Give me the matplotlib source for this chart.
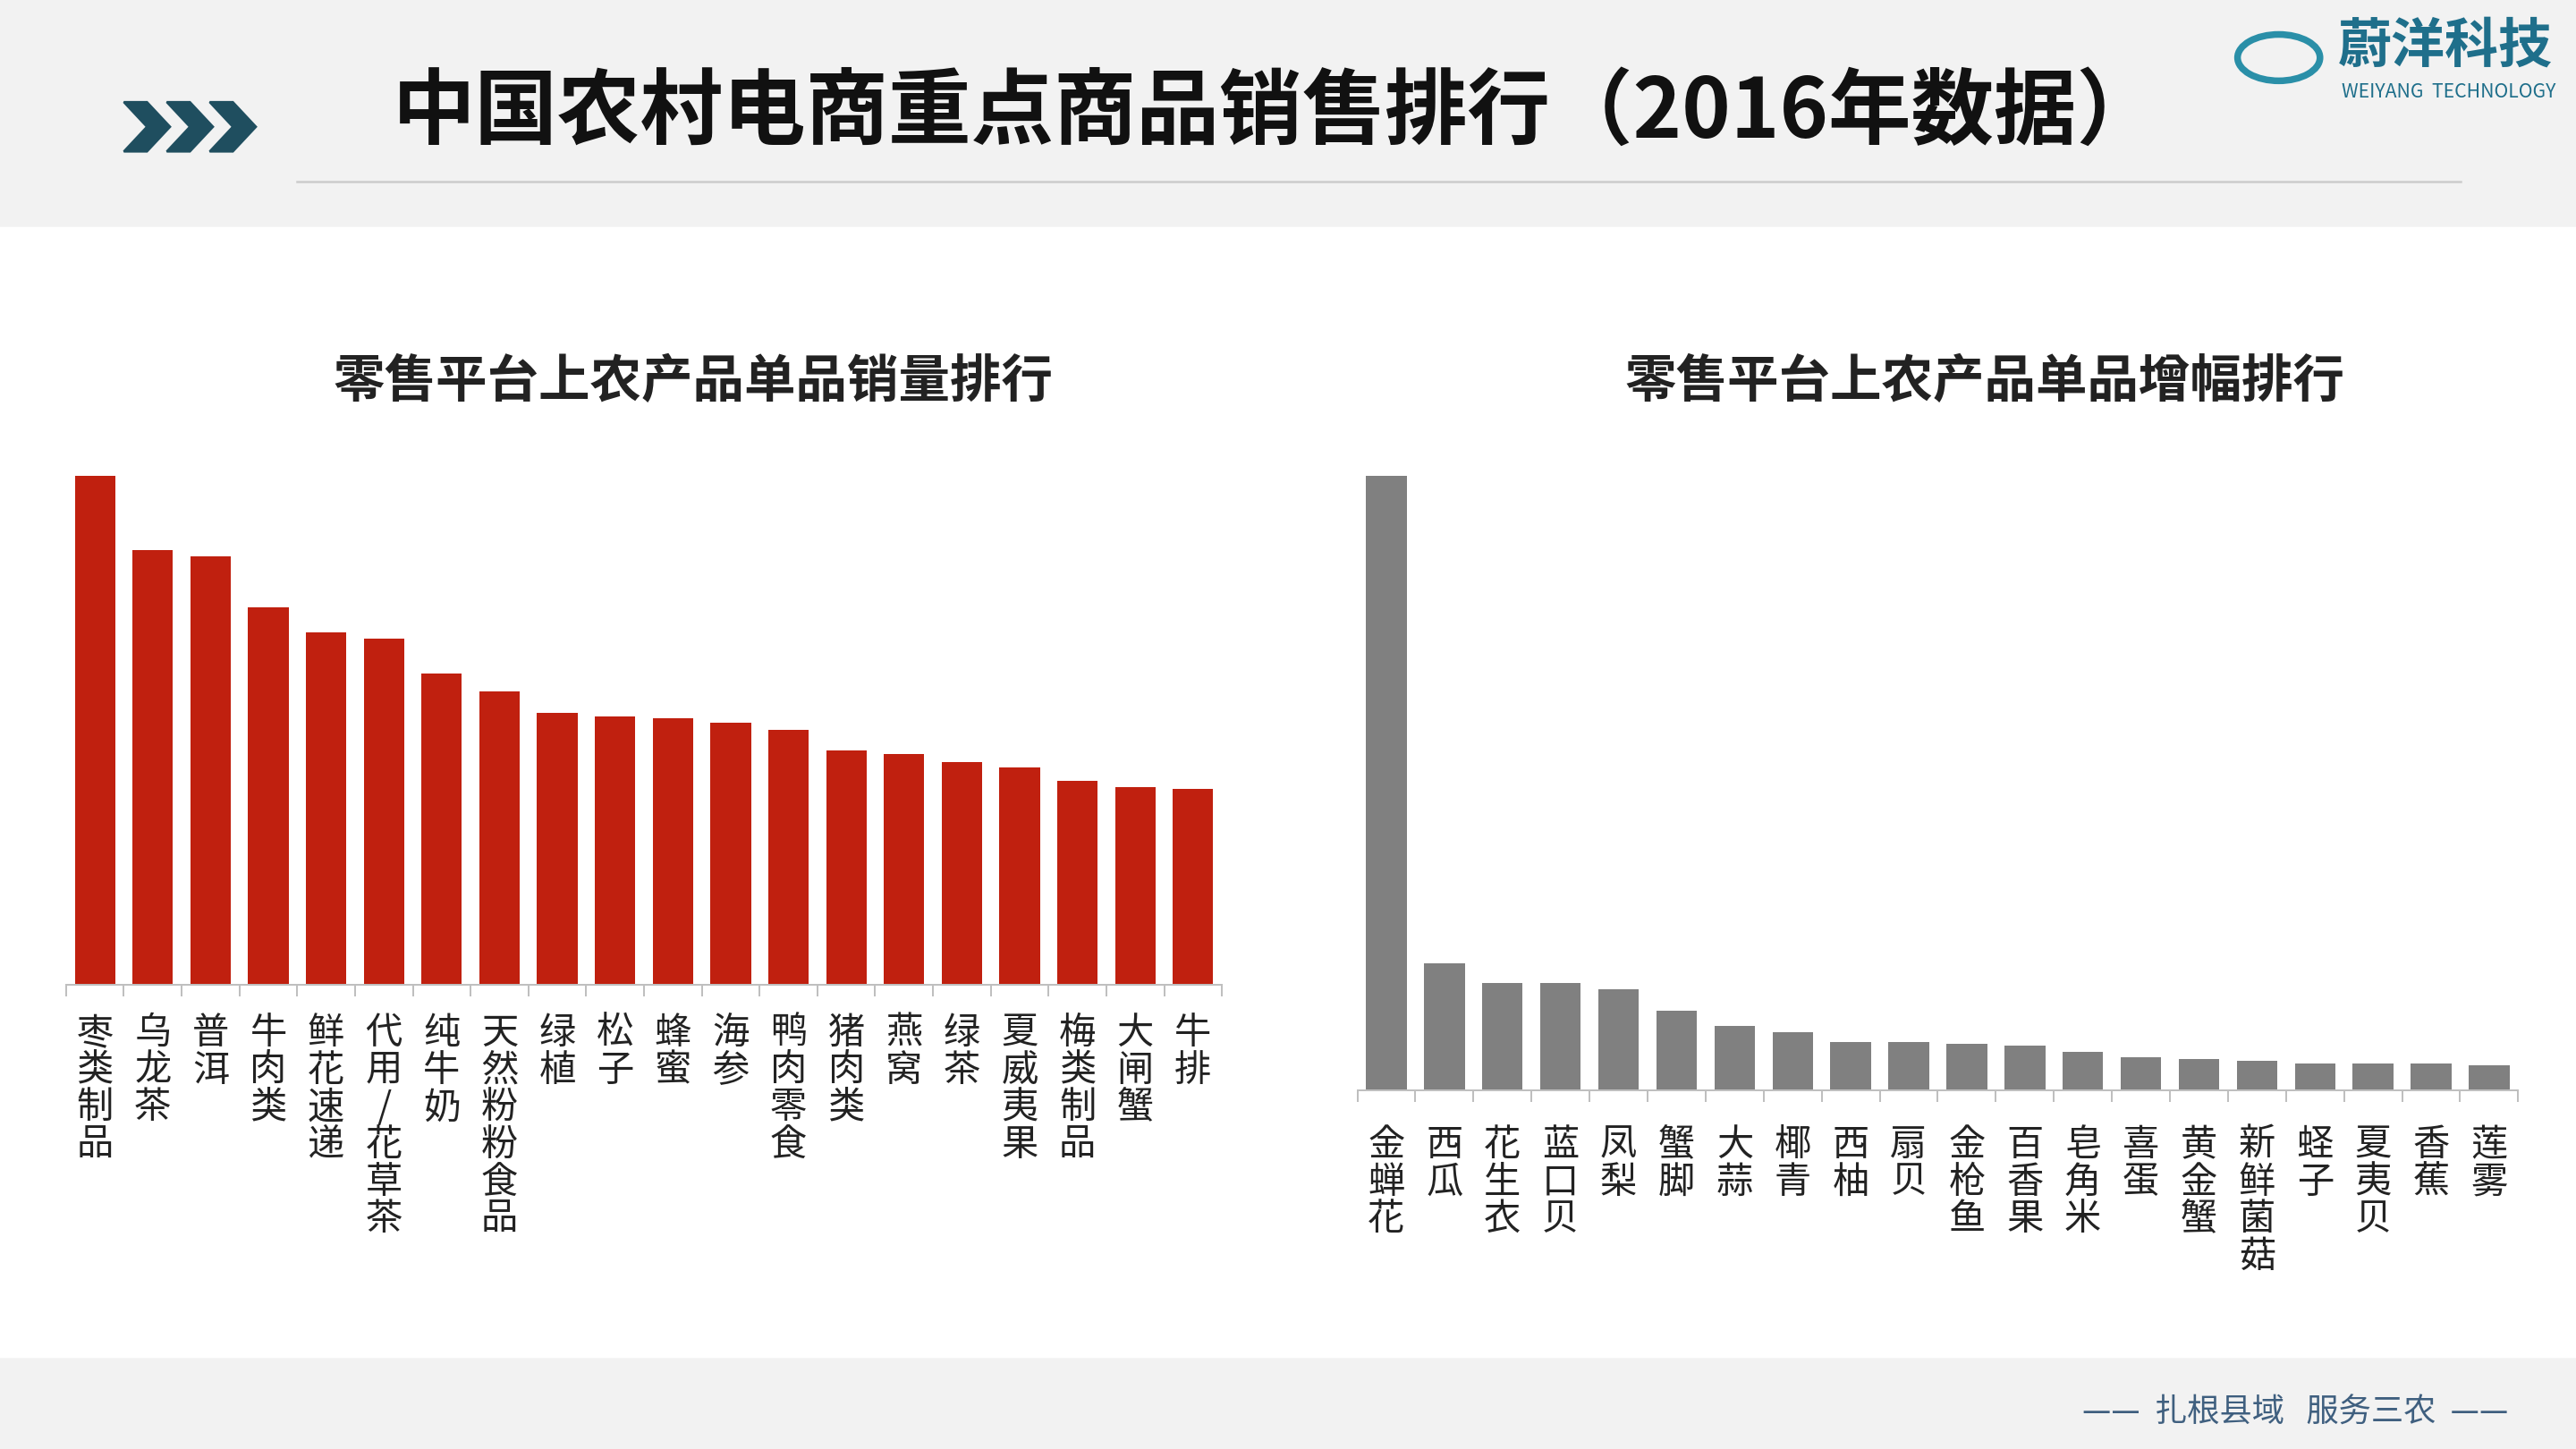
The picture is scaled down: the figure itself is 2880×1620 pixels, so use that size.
import matplotlib
matplotlib.use("Agg")
import matplotlib.pyplot as plt
from matplotlib.patches import Rectangle, Polygon
from matplotlib import font_manager as fm
import glob

for p in glob.glob("/usr/share/fonts/**/*CJK*", recursive=True):
    try:
        fm.fontManager.addfont(p)
    except Exception:
        pass
names = sorted({f.name for f in fm.fontManager.ttflist if "CJK" in f.name})
cjk = [n for n in names if "SC" in n] or names
plt.rcParams["font.family"] = cjk + ["DejaVu Sans"]

left_cats = ["枣类制品","乌龙茶","普洱","牛肉类","鲜花速递","代用/花草茶","纯牛奶","天然粉粉食品","绿植","松子",
             "蜂蜜","海参","鸭肉零食","猪肉类","燕窝","绿茶","夏威夷果","梅类制品","大闸蟹","牛排"]
left_vals = [309,264,260,229,214,210,189,178,165,163,162,159,155,142,140,135,132,124,120,119]
right_cats = ["金蝉花","西瓜","花生衣","蓝口贝","凤梨","蟹脚","大蒜","椰青","西柚","扇贝",
              "金枪鱼","百香果","皂角米","喜蛋","黄金蟹","新鲜菌菇","蛏子","夏夷贝","香蕉","莲雾"]
right_vals = [373,77,65,65,61,48,39,35,29,29,28,27,23,20,19,18,16,16,16,15]

W, H = 1560, 880
fig = plt.figure(figsize=(16, 9), dpi=180)
fig.patch.set_facecolor("white")

def fx(x): return x / W
def fy(y): return 1 - y / H

fig.patches.append(Rectangle((0, fy(137)), 1, 137 / H, transform=fig.transFigure, color="#f2f2f2", zorder=0))
fig.patches.append(Rectangle((0, 0), 1, 55 / H, transform=fig.transFigure, color="#f2f2f2", zorder=0))
fig.add_artist(plt.Line2D([fx(180), fx(1490)], [fy(110), fy(110)], color="#cccccc", lw=1))
for i in range(3):
    x0 = 75 + i * 26
    pts = [(x0, 62), (x0 + 14, 62), (x0 + 28, 77), (x0 + 14, 92), (x0, 92), (x0 + 14, 77)]
    fig.patches.append(Polygon([(fx(a), fy(b)) for a, b in pts], closed=True,
                               transform=fig.transFigure, color="#1f4e5f", zorder=2))
fig.text(fx(773), fy(69), "中国农村电商重点商品销售排行（2016年数据）", fontsize=37, fontweight="bold",
         ha="center", va="center", color="#111111")
fig.text(fx(1416), fy(28), "蔚洋科技", fontsize=24, fontweight="bold", color="#1f6f8b", va="center")
fig.text(fx(1418), fy(56), "WEIYANG  TECHNOLOGY", fontsize=8.5, color="#1f6f8b", va="center")
fig.patches.append(matplotlib.patches.Circle((fx(1380), fy(35)), 0.016, transform=fig.transFigure,
                                             fill=False, ec="#2a8fa8", lw=3))
fig.text(fx(1390), fy(858), "——  扎根县域   服务三农  ——", fontsize=14.5, color="#3f5f7f",
         ha="center", va="center")

def panel(rect, cats, vals, color, title, title_x, title_y):
    ax = fig.add_axes(rect)
    x = range(len(cats))
    ax.bar(x, vals, width=0.7, color=color)
    ax.set_xlim(-0.5, len(cats) - 0.5)
    ax.set_ylim(0, max(vals))
    for s in ["top", "right", "left"]:
        ax.spines[s].set_visible(False)
    ax.spines["bottom"].set_color("#bfbfbf")
    ax.set_yticks([])
    ax.set_xticks([i + 0.5 for i in range(-1, len(cats))])
    ax.set_xticklabels([])
    ax.tick_params(axis="x", length=5, color="#bfbfbf")
    for i, c in enumerate(cats):
        ax.text(i, -0.06 * max(vals), "\n".join(c), ha="center", va="top", fontsize=16.5,
                linespacing=1.02, color="#222222")
    fig.text(title_x, title_y, title, fontsize=23, fontweight="bold",
             ha="center", va="center", color="#222222")
    return ax

panel([fx(40), fy(598), fx(700), (598 - 289) / H], left_cats, left_vals, "#c0200f",
      "零售平台上农产品单品销量排行", fx(420), fy(232))
panel([fx(822), fy(662), fx(703), (662 - 289) / H], right_cats, right_vals, "#808080",
      "零售平台上农产品单品增幅排行", fx(1202), fy(232))

fig.savefig("out.png", dpi=180)
